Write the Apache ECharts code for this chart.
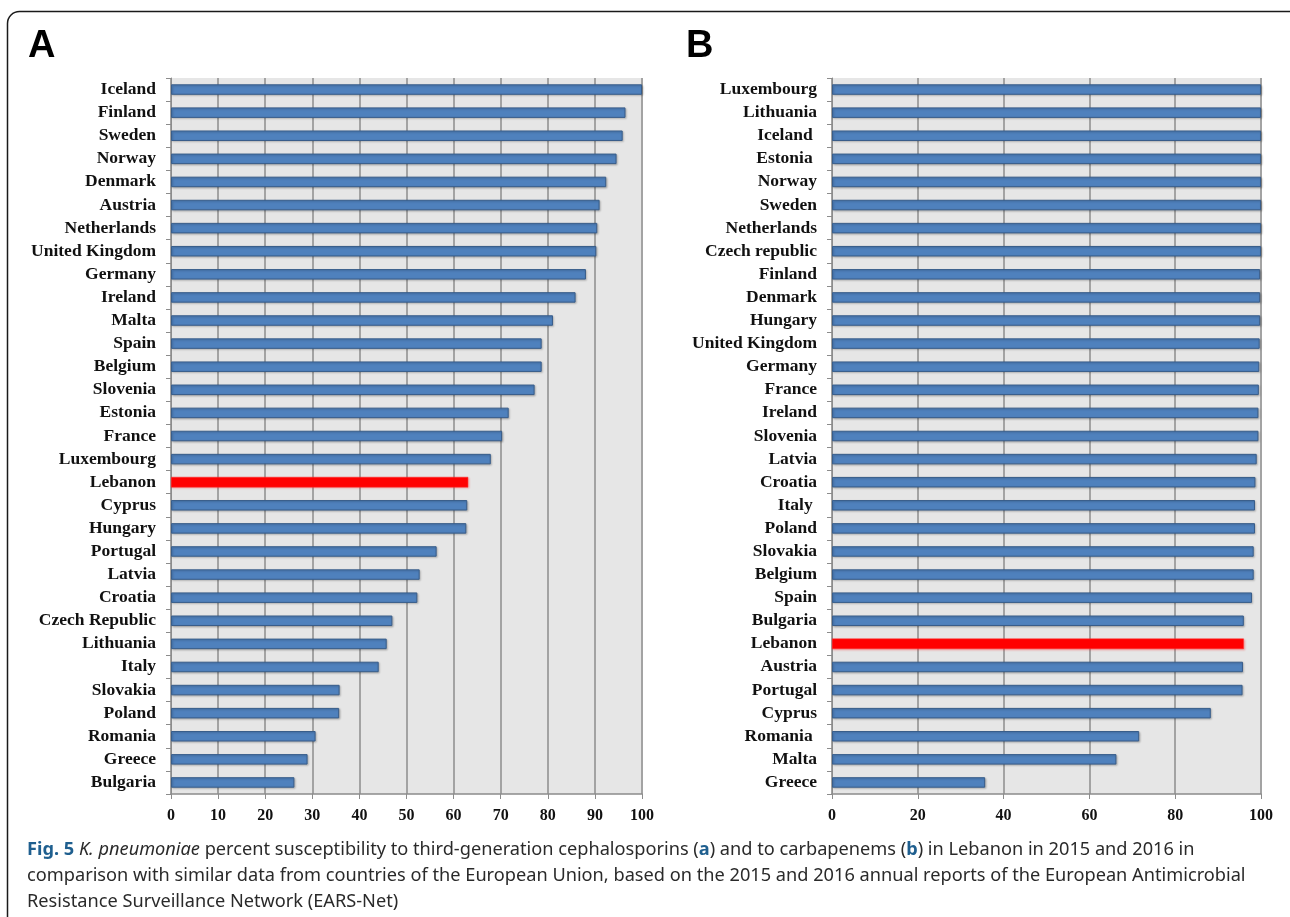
<!DOCTYPE html>
<html>
<head>
<meta charset="utf-8">
<script src="https://cdn.jsdelivr.net/npm/echarts@6/dist/echarts.min.js"></script>
<style>
  html, body { margin: 0; padding: 0; background: #ffffff; }
  #chart { width: 1290px; height: 917px; }
</style>
</head>
<body>
<div id="chart"></div>
<script>
// Panel A: susceptibility to third-generation cephalosporins (%)
const countriesA = ['Iceland', 'Finland', 'Sweden', 'Norway', 'Denmark', 'Austria', 'Netherlands',
  'United Kingdom', 'Germany', 'Ireland', 'Malta', 'Spain', 'Belgium', 'Slovenia', 'Estonia',
  'France', 'Luxembourg', 'Lebanon', 'Cyprus', 'Hungary', 'Portugal', 'Latvia', 'Croatia',
  'Czech Republic', 'Lithuania', 'Italy', 'Slovakia', 'Poland', 'Romania', 'Greece', 'Bulgaria'];
const valuesA = [100, 96.5, 95.9, 94.6, 92.4, 91.0, 90.5, 90.3, 88.1, 85.9, 81.1, 78.7, 78.7,
  77.2, 71.7, 70.3, 67.9, 63.1, 62.9, 62.7, 56.4, 52.8, 52.3, 47.0, 45.8, 44.1, 35.8, 35.7,
  30.7, 29.0, 26.2];

// Panel B: susceptibility to carbapenems (%)
const countriesB = ['Luxembourg', 'Lithuania', 'Iceland ', 'Estonia ', 'Norway', 'Sweden',
  'Netherlands', 'Czech republic', 'Finland', 'Denmark', 'Hungary', 'United Kingdom', 'Germany',
  'France', 'Ireland', 'Slovenia', 'Latvia', 'Croatia', 'Italy ', 'Poland', 'Slovakia',
  'Belgium', 'Spain', 'Bulgaria', 'Lebanon', 'Austria', 'Portugal', 'Cyprus', 'Romania ',
  'Malta', 'Greece'];
const valuesB = [100, 100, 100, 100, 100, 100, 100, 100, 99.8, 99.8, 99.8, 99.7, 99.6, 99.5,
  99.4, 99.4, 99.0, 98.7, 98.6, 98.6, 98.3, 98.3, 97.9, 96.0, 96.0, 95.8, 95.7, 88.3,
  71.6, 66.3, 35.7];

const highlight = 'Lebanon';
const axisTicksA = { min: 0, max: 100, interval: 10 };
const axisTicksB = { min: 0, max: 100, interval: 20 };

const labelFont = { fontFamily: 'Liberation Serif', fontWeight: 'bold', color: '#111' };

function barData(names, vals) {
  return vals.map((v, i) => {
    if (names[i].trim() === highlight) {
      return {
        value: v,
        itemStyle: { color: '#ff0000', borderColor: '#ff3030', borderWidth: 0.5,
          shadowColor: 'rgba(255,0,0,0.25)', shadowBlur: 2, shadowOffsetX: 1, shadowOffsetY: 1 }
      };
    }
    return v;
  });
}

function yAxisFor(idx, names) {
  return {
    type: 'category', gridIndex: idx, data: names, inverse: true,
    axisLine: { show: true, lineStyle: { color: '#8c8c8c', width: 1 } },
    axisTick: { show: true, length: 5, lineStyle: { color: '#8c8c8c' } },
    axisLabel: Object.assign({ fontSize: 17.5, margin: 15, interval: 0, hideOverlap: false }, labelFont),
    splitLine: { show: false }
  };
}

function xAxisFor(idx, ticks) {
  return {
    type: 'value', gridIndex: idx, min: ticks.min, max: ticks.max, interval: ticks.interval,
    axisLine: { show: true, lineStyle: { color: '#8c8c8c', width: 1.5 } },
    axisTick: { show: true, length: 5, lineStyle: { color: '#8c8c8c' } },
    axisLabel: Object.assign({ fontSize: 16, margin: 14 }, labelFont),
    splitLine: { show: true, lineStyle: { color: '#a3a3a3', width: 2 } }
  };
}

const barStyle = {
  color: '#4f81bd', borderColor: '#385d8a', borderWidth: 1,
  shadowColor: 'rgba(0,0,0,0.22)', shadowBlur: 2, shadowOffsetX: 1, shadowOffsetY: 1
};

const chart = echarts.init(document.getElementById('chart'), null, { renderer: 'canvas' });
chart.setOption({
  animation: false,
  backgroundColor: '#ffffff',
  grid: [
    { left: 171, right: 648, top: 78, bottom: 123, show: true, backgroundColor: '#e6e6e6', borderWidth: 0 },
    { left: 832, right: 29, top: 78, bottom: 123, show: true, backgroundColor: '#e6e6e6', borderWidth: 0 }
  ],
  xAxis: [xAxisFor(0, axisTicksA), xAxisFor(1, axisTicksB)],
  yAxis: [yAxisFor(0, countriesA), yAxisFor(1, countriesB)],
  series: [
    { type: 'bar', xAxisIndex: 0, yAxisIndex: 0, barWidth: 10.5, itemStyle: barStyle,
      data: barData(countriesA, valuesA) },
    { type: 'bar', xAxisIndex: 1, yAxisIndex: 1, barWidth: 10.5, itemStyle: barStyle,
      data: barData(countriesB, valuesB) }
  ],
  graphic: [
    { type: 'rect', shape: { x: 7.5, y: 11.5, width: 1300, height: 960, r: 12 },
      style: { fill: 'none', stroke: '#1a1a1a', lineWidth: 1.5 }, z: 0 },
    { type: 'text', x: 28, y: 28,
      style: { text: 'A', font: 'bold 38px "Liberation Sans"', fill: '#000' } },
    { type: 'text', x: 686, y: 28,
      style: { text: 'B', font: 'bold 38px "Liberation Sans"', fill: '#000' } },
    { type: 'text', x: 27, y: 837,
      style: {
        text: '{b|Fig. 5} {i|K. pneumoniae} percent susceptibility to third-generation cephalosporins ({b|a}) and to carbapenems ({b|b}) in Lebanon in 2015 and 2016 in\n' +
              'comparison with similar data from countries of the European Union, based on the 2015 and 2016 annual reports of the European Antimicrobial\n' +
              'Resistance Surveillance Network (EARS-Net)',
        fontFamily: 'Noto Sans', fontSize: 18.2, lineHeight: 26, fill: '#2a2a2a',
        rich: {
          b: { fontFamily: 'Noto Sans', fontSize: 18.2, fontWeight: 'bold', lineHeight: 26, fill: '#1f5f8f' },
          i: { fontFamily: 'Noto Sans', fontSize: 18.2, fontStyle: 'italic', lineHeight: 26, fill: '#2a2a2a' }
        }
      } }
  ]
});
</script>
</body>
</html>
